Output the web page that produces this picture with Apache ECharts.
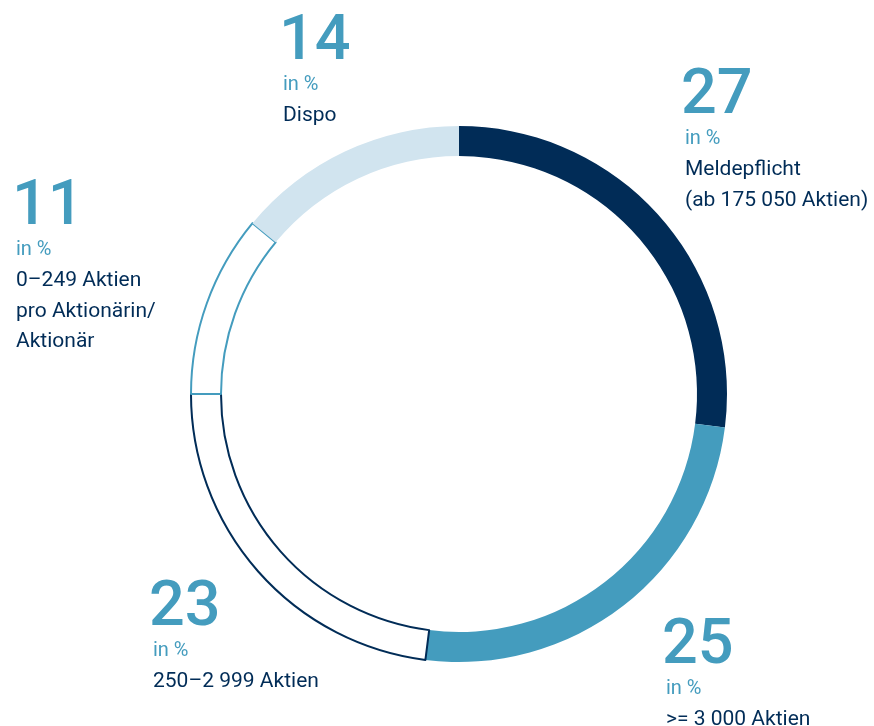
<!DOCTYPE html>
<html>
<head>
<meta charset="utf-8">
<script src="https://cdn.jsdelivr.net/npm/echarts@6/dist/echarts.min.js"></script>
<style>
  html, body { margin: 0; padding: 0; background: #fff; }
  #chart { width: 874px; height: 726px; }
</style>
</head>
<body>
<div id="chart"></div>
<script>
// data, clockwise from 12 o'clock
var categories = ['Meldepflicht', '>= 3 000 Aktien', '250–2 999 Aktien', '0–249 Aktien', 'Dispo'];
var shares = [27, 25, 23, 11, 14];
var descriptions = [
  ['Meldepflicht', '(ab 175 050 Aktien)'],
  ['>= 3 000 Aktien'],
  ['250–2 999 Aktien'],
  ['0–249 Aktien', 'pro Aktionärin/', 'Aktionär'],
  ['Dispo']
];

var NAVY = '#012c57';
var TEAL = '#449cbe';
var LIGHT = '#d1e4ef';

var sliceStyles = [
  { color: NAVY, borderWidth: 0 },
  { color: TEAL, borderWidth: 0 },
  { color: '#fff', borderColor: NAVY, borderWidth: 2 },
  { color: '#fff', borderColor: TEAL, borderWidth: 2 },
  { color: LIGHT, borderWidth: 0 }
];

// label anchor: [left x, centre y of the big number]
var labelPos = [[685, 91], [666, 641], [153, 603], [16, 202], [283, 37]];

var graphics = [];
shares.forEach(function (v, i) {
  var x = labelPos[i][0], y = labelPos[i][1];
  graphics.push({
    type: 'text', x: x - 4, y: y + 6,
    style: { text: String(v), font: '500 63px Roboto', fill: TEAL, verticalAlign: 'middle' }
  });
  graphics.push({
    type: 'text', x: x, y: y + 48,
    style: { text: 'in %', font: '400 20px Roboto', fill: TEAL, verticalAlign: 'middle' }
  });
  descriptions[i].forEach(function (line, j) {
    graphics.push({
      type: 'text', x: x, y: y + 79 + j * 30.5,
      style: { text: line, font: '400 21px Roboto', fill: NAVY, verticalAlign: 'middle' }
    });
  });
});

var chart = echarts.init(document.getElementById('chart'));
chart.setOption({
  animation: false,
  graphic: graphics,
  series: [{
    type: 'pie',
    center: [459, 394],
    radius: [238, 268],
    startAngle: 90,
    clockwise: true,
    silent: true,
    label: { show: false },
    labelLine: { show: false },
    data: shares.map(function (v, i) {
      return { name: categories[i], value: v, itemStyle: sliceStyles[i] };
    })
  }]
});
</script>
</body>
</html>
